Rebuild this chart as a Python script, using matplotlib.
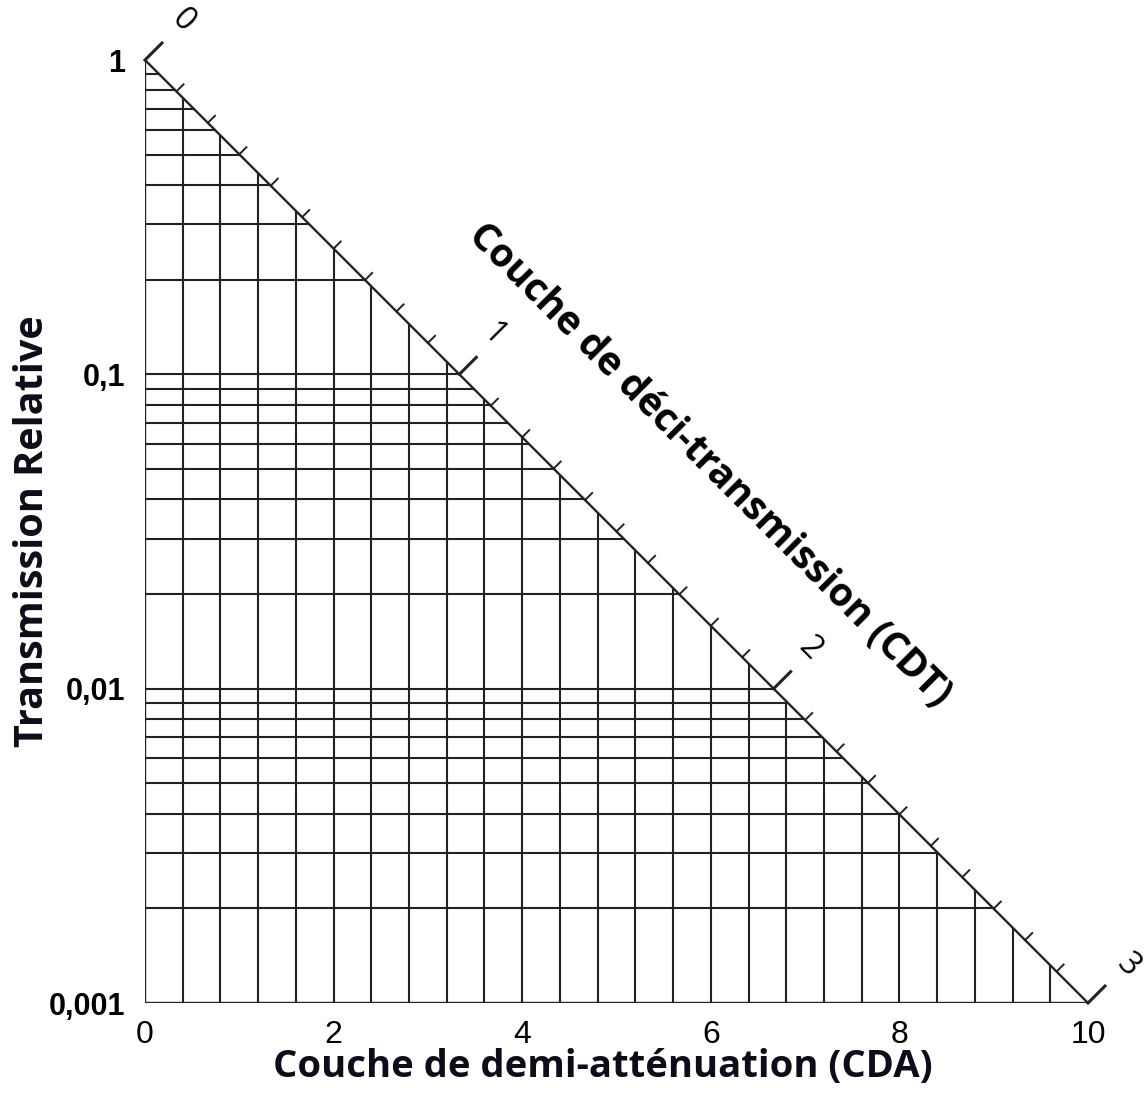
import matplotlib
matplotlib.use("Agg")
import matplotlib.pyplot as plt
import numpy as np

# data
cda_max = 10.0
cdt_max = 3.0
vert_lines = np.arange(0, 10.01, 0.4)  # CDA grid, step 0.4
horiz_lines = [0.9, 0.8, 0.7, 0.6, 0.5, 0.4, 0.3, 0.2, 0.1,
               0.09, 0.08, 0.07, 0.06, 0.05, 0.04, 0.03, 0.02, 0.01,
               0.009, 0.008, 0.007, 0.006, 0.005, 0.004, 0.003, 0.002]
cdt_ticks = np.arange(0, 3.001, 0.1)
cdt_labels = ["0", "1", "2", "3"]
x_ticks = [0, 2, 4, 6, 8, 10]
x_ticklabels = ["0", "2", "4", "6", "8", "10"]
y_ticks = [1, 0.1, 0.01, 0.001]
y_ticklabels = ["1", "0,1", "0,01", "0,001"]

W, H = 1144, 1095
fig = plt.figure(figsize=(W / 100, H / 100), dpi=100)
ax = fig.add_axes([145 / W, (H - 1003) / H, 943 / W, 943 / H])
ax.set_yscale("log")
ax.set_xlim(0, cda_max)
ax.set_ylim(0.001, 1)

lc = "#222222"
lw = 1.5

def diag_y(x):
    return 10 ** (-cdt_max * x / cda_max)

def diag_x(y):
    return -np.log10(y) * cda_max / cdt_max

# vertical grid up to the diagonal
for x in vert_lines[1:-1]:
    ax.plot([x, x], [0.001, diag_y(x)], color=lc, lw=lw, solid_capstyle="butt")

# horizontal grid up to the diagonal
for y in horiz_lines:
    ax.plot([0, diag_x(y)], [y, y], color=lc, lw=lw, solid_capstyle="butt")

# border: left, bottom and the diagonal
ax.plot([0, 0], [0.001, 1], color=lc, lw=1.7)
ax.plot([0, cda_max], [0.001, 0.001], color=lc, lw=1.7)
ax.plot([0, cda_max], [1, 0.001], color=lc, lw=1.7)

for s in ax.spines.values():
    s.set_visible(False)

# CDT scale on the diagonal (axes fraction, diagonal goes (0,1)->(1,0))
n = np.array([1, 1]) / np.sqrt(2)
for t in cdt_ticks:
    u = t / cdt_max
    v = 1 - u
    major = abs(t - round(t)) < 1e-6
    L = (24 if major else 10) / 943
    ax.plot([u, u + n[0] * L], [v, v + n[1] * L], color=lc, lw=2.2 if major else 1.4,
            transform=ax.transAxes, clip_on=False)

lab_off = {"0": (38, 40), "1": (34, 40), "2": (36, 40), "3": (40, 38)}
for i, lab in enumerate(cdt_labels):
    u = i / cdt_max
    v = 1 - u
    dx, dy = lab_off[lab]
    ax.text(u + dx / 943, v + dy / 943, lab, transform=ax.transAxes, fontsize=23,
            family="Open Sans", rotation=-45, ha="center", va="center")

ax.text(0.599, 0.571, "Couche de déci-transmission (CDT)", transform=ax.transAxes,
        rotation=-45, ha="center", va="center", fontsize=28, fontweight="bold",
        family="Open Sans", color="black", rotation_mode="anchor")

ax.set_xticks(x_ticks)
ax.set_xticklabels(x_ticklabels, family="Liberation Sans", fontsize=23)
ax.set_yticks(y_ticks)
ax.set_yticklabels(y_ticklabels, family="Liberation Sans", fontsize=22, fontweight="bold")
ax.yaxis.set_minor_locator(matplotlib.ticker.NullLocator())
ax.tick_params(length=0, pad=12)
ax.tick_params(axis="y", pad=14)

ax.set_xlabel("Couche de demi-atténuation (CDA)", family="Open Sans", fontsize=27.5,
              fontweight="bold", color="#0d0d1a")
ax.xaxis.set_label_coords((603 - 145) / 943, -0.048)
ax.set_ylabel("Transmission Relative", family="Open Sans", fontsize=28.5,
              fontweight="bold", color="#0d0d1a", labelpad=-2)

fig.savefig("out.png", dpi=100)
